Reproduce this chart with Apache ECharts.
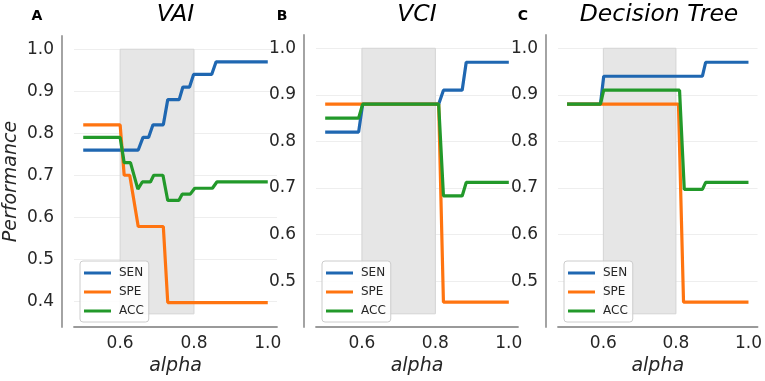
<!DOCTYPE html>
<html>
<head>
<meta charset="utf-8">
<title>Performance vs alpha</title>
<script src="https://cdn.jsdelivr.net/npm/echarts@6/dist/echarts.min.js"></script>
<style>
    html, body { margin: 0; padding: 0; background: #fff; }
    #chart { width: 765px; height: 381px; }
</style>
</head>
<body>
<div id="chart"></div>
<script>
// Data: [alpha, value] corner points
var seriesNames = ['SEN', 'SPE', 'ACC'];
var panelTitles = ['VAI', 'VCI', 'Decision Tree'];
var panelLetters = ['A', 'B', 'C'];

var vaiSen = [[0.5, 0.76], [0.649, 0.76], [0.662, 0.79], [0.677, 0.79], [0.689, 0.82], [0.717, 0.82], [0.729, 0.88], [0.760, 0.88], [0.770, 0.91], [0.788, 0.91], [0.799, 0.94], [0.848, 0.94], [0.860, 0.97], [1.0, 0.97]];
var vaiSpe = [[0.5, 0.82], [0.6, 0.82], [0.611, 0.70], [0.626, 0.70], [0.649, 0.578], [0.717, 0.578], [0.729, 0.397], [1.0, 0.397]];
var vaiAcc = [[0.5, 0.79], [0.6, 0.79], [0.611, 0.73], [0.628, 0.73], [0.648, 0.667], [0.660, 0.684], [0.682, 0.684], [0.691, 0.70], [0.716, 0.70], [0.729, 0.64], [0.759, 0.64], [0.768, 0.655], [0.790, 0.655], [0.802, 0.669], [0.850, 0.669], [0.862, 0.684], [1.0, 0.684]];

var vciSen = [[0.5, 0.82], [0.591, 0.82], [0.602, 0.88], [0.809, 0.88], [0.822, 0.91], [0.873, 0.91], [0.884, 0.97], [1.0, 0.97]];
var vciSpe = [[0.5, 0.88], [0.809, 0.88], [0.822, 0.455], [1.0, 0.455]];
var vciAcc = [[0.5, 0.85], [0.591, 0.85], [0.602, 0.88], [0.809, 0.88], [0.822, 0.683], [0.873, 0.683], [0.884, 0.712], [1.0, 0.712]];

var treeSen = [[0.5, 0.88], [0.592, 0.88], [0.601, 0.94], [0.873, 0.94], [0.882, 0.97], [1.0, 0.97]];
var treeSpe = [[0.5, 0.88], [0.807, 0.88], [0.821, 0.455], [1.0, 0.455]];
var treeAcc = [[0.5, 0.88], [0.592, 0.88], [0.601, 0.91], [0.810, 0.91], [0.823, 0.697], [0.873, 0.697], [0.882, 0.712], [1.0, 0.712]];

// shaded alpha band and its value range per panel
var shadeAlpha = [0.6, 0.8];
var shadeLow = [0.37, 0.43, 0.43];
var shadeHigh = [1.0, 1.0, 1.0];

var panelData = [
    [vaiSen, vaiSpe, vaiAcc],
    [vciSen, vciSpe, vciAcc],
    [treeSen, treeSpe, treeAcc]
];

var ChartPerformance = function () {

    var _init = function () {
        if (typeof echarts == 'undefined') {
            console.warn('Warning - echarts.min.js is not loaded.');
            return;
        }
        var el = document.getElementById('chart');
        var chart = echarts.init(el);

        var font = 'DejaVu Sans';
        var textCol = '#262626';
        var spineCol = '#9a9a9a';
        var colors = ['#1f67b1', '#ff7410', '#22992a'];

        // layout of each panel
        var grids = [
            { left: 74, top: 36, width: 203, height: 292 },
            { left: 316, top: 35, width: 202, height: 293 },
            { left: 558, top: 35, width: 202, height: 293 }
        ];
        var yRanges = [[0.3385, 1.0315], [0.4015, 1.0285], [0.4015, 1.0285]];
        var legendLeft = [80, 322, 564];
        var letterX = [37, 282, 523];

        var xAxes = [], yAxes = [], series = [], legends = [], titles = [];

        grids.forEach(function (g, i) {
            xAxes.push({
                type: 'value',
                gridIndex: i,
                min: 0.475,
                max: 1.025,
                splitNumber: 3,
                name: 'alpha',
                nameLocation: 'middle',
                nameGap: 29,
                nameTextStyle: { fontFamily: font, fontStyle: 'italic', fontSize: 19, color: textCol },
                axisLine: { show: true, lineStyle: { color: spineCol, width: 1.8 } },
                axisTick: { show: false },
                splitLine: { show: false },
                axisLabel: {
                    showMinLabel: false, showMaxLabel: false,
                    margin: 8, fontFamily: font, fontSize: 17, color: textCol,
                    formatter: function (v) { return v.toFixed(1); }
                }
            });
            yAxes.push({
                type: 'value',
                gridIndex: i,
                min: yRanges[i][0],
                max: yRanges[i][1],
                offset: 12,
                name: i === 0 ? 'Performance' : '',
                nameLocation: 'middle',
                nameGap: 41,
                nameTextStyle: { fontFamily: font, fontStyle: 'italic', fontSize: 19, color: textCol },
                axisLine: { show: true, lineStyle: { color: spineCol, width: 1.8 } },
                axisTick: { show: false },
                splitLine: { show: true, showMinLine: false, showMaxLine: false, lineStyle: { color: '#eeeeee', width: 1 } },
                axisLabel: {
                    showMinLabel: false, showMaxLabel: false,
                    margin: 8, fontFamily: font, fontSize: 17, color: textCol,
                    formatter: function (v) { return v.toFixed(1); }
                }
            });

            // shaded band
            series.push({
                type: 'line',
                name: 'band' + i,
                xAxisIndex: i,
                yAxisIndex: i,
                data: [],
                silent: true,
                z: 1,
                markArea: {
                    silent: true,
                    itemStyle: { color: '#e6e6e6', borderColor: '#d4d4d4', borderWidth: 1 },
                    data: [[
                        { coord: [shadeAlpha[0], shadeLow[i]] },
                        { coord: [shadeAlpha[1], shadeHigh[i]] }
                    ]]
                }
            });

            panelData[i].forEach(function (d, k) {
                series.push({
                    type: 'line',
                    name: seriesNames[k],
                    xAxisIndex: i,
                    yAxisIndex: i,
                    data: d,
                    showSymbol: false,
                    symbol: 'none',
                    z: 2 + k,
                    color: colors[k],
                    lineStyle: { width: 3.2, color: colors[k] },
                    animation: false
                });
            });

            legends.push({
                data: seriesNames,
                orient: 'vertical',
                left: legendLeft[i],
                top: 261,
                icon: 'rect',
                itemWidth: 27,
                itemHeight: 3,
                itemGap: 5,
                padding: [5, 5, 4, 4],
                backgroundColor: 'rgba(255,255,255,0.85)',
                borderColor: '#cccccc',
                borderWidth: 1,
                borderRadius: 3,
                selectedMode: false,
                textStyle: { fontFamily: font, fontSize: 12, lineHeight: 14, color: textCol, padding: [0, 0, 0, 3] }
            });

            titles.push({
                text: panelTitles[i],
                left: g.left + g.width / 2,
                top: 3,
                textAlign: 'center',
                padding: 0,
                textStyle: { fontFamily: font, fontStyle: 'italic', fontWeight: 'normal', fontSize: 23.5, color: '#000' }
            });
            titles.push({
                text: panelLetters[i],
                left: letterX[i],
                top: 9,
                textAlign: 'center',
                padding: 0,
                textStyle: { fontFamily: font, fontWeight: 'bold', fontSize: 14, color: '#000' }
            });
        });

        chart.setOption({
            animation: false,
            textStyle: { fontFamily: font },
            title: titles,
            grid: grids,
            xAxis: xAxes,
            yAxis: yAxes,
            legend: legends,
            series: series
        });
    };

    return {
        init: function () {
            _init();
        }
    }
}();

document.addEventListener('DOMContentLoaded', function () {
    ChartPerformance.init();
});
</script>
</body>
</html>
